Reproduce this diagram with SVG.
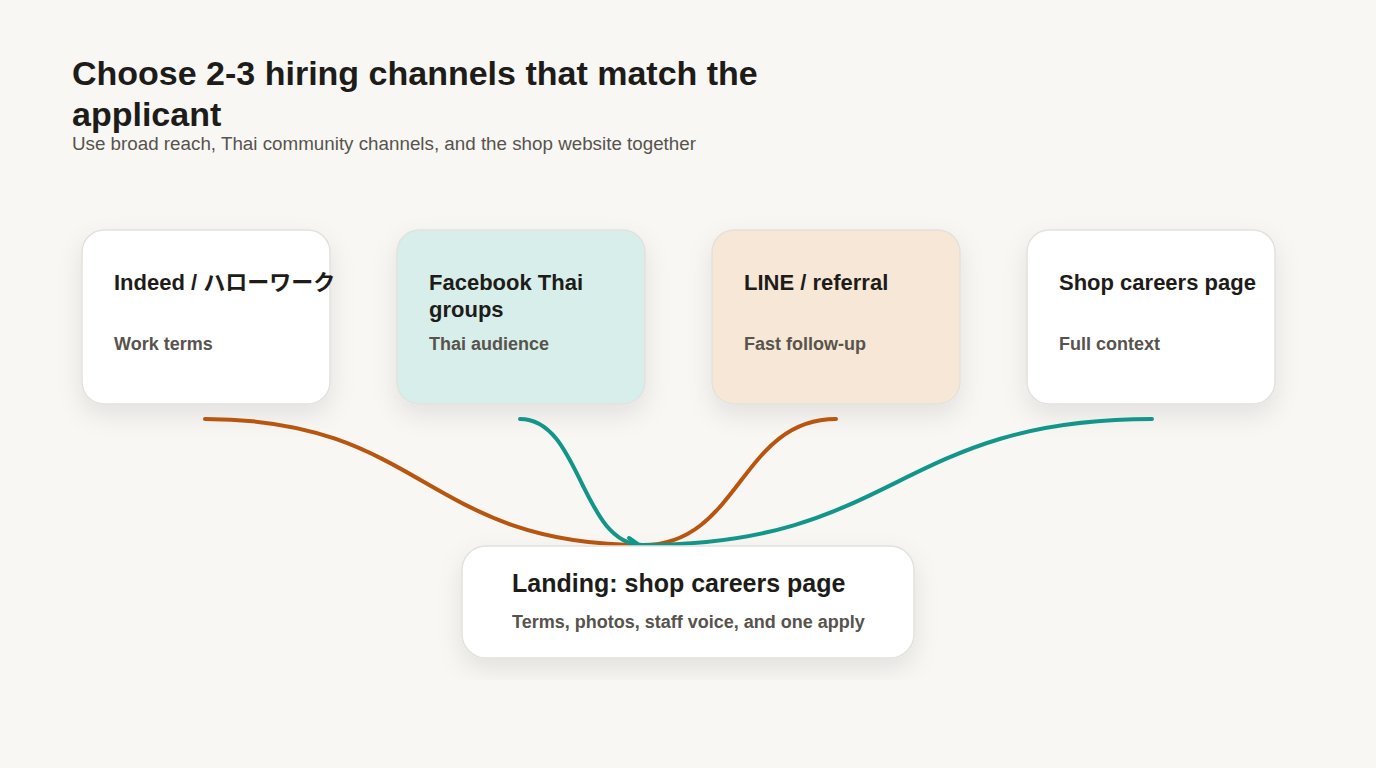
<svg xmlns="http://www.w3.org/2000/svg" width="1376" height="768" viewBox="0 0 1376 768">
  <defs>
    <filter id="shadow" x="-20%" y="-30%" width="140%" height="170%">
      <feDropShadow dx="0" dy="10" stdDeviation="12" flood-color="#000" flood-opacity="0.09"/>
    </filter>
    <clipPath id="stage">
      <rect x="0" y="0" width="1376" height="680"/>
    </clipPath>
    <style>
      .title { font-family: "Liberation Sans", Arial, sans-serif; font-weight: 700; font-size: 34px; fill: #1e1c19; }
      .sub { font-family: "Liberation Sans", Arial, sans-serif; font-size: 18.8px; fill: #57534d; }
      .card { stroke: #e3e1dd; stroke-width: 1.5; }
      .ct { font-family: "Liberation Sans", "Noto Sans CJK JP", Arial, sans-serif; font-weight: 700; font-size: 22px; fill: #1e1c19; }
      .cs { font-family: "Liberation Sans", Arial, sans-serif; font-weight: 700; font-size: 18px; fill: #57534d; }
      .lt { font-family: "Liberation Sans", Arial, sans-serif; font-weight: 700; font-size: 25px; fill: #1e1c19; }
      .conn { fill: none; stroke-width: 4; stroke-linecap: round; }
      .orange { stroke: #b8560f; }
      .teal { stroke: #13968a; }
    </style>
  </defs>
  <rect x="0" y="0" width="1376" height="768" fill="#f8f7f4"/>

  <g id="header">
    <text class="title" x="72" y="85">Choose 2-3 hiring channels that match the</text>
    <text class="title" x="72" y="126">applicant</text>
    <text class="sub" x="72" y="150">Use broad reach, Thai community channels, and the shop website together</text>
  </g>

  <g clip-path="url(#stage)">
    <g id="node-indeed">
      <rect class="card" x="82" y="230" width="248" height="174" rx="22" fill="#ffffff" filter="url(#shadow)"/>
      <text class="ct" x="114" y="290">Indeed / ハローワーク</text>
      <text class="cs" x="114" y="350">Work terms</text>
    </g>
    <g id="node-facebook">
      <rect class="card" x="397" y="230" width="248" height="174" rx="22" fill="#d8eeeb" filter="url(#shadow)"/>
      <text class="ct" x="429" y="290">Facebook Thai</text>
      <text class="ct" x="429" y="317">groups</text>
      <text class="cs" x="429" y="350">Thai audience</text>
    </g>
    <g id="node-line">
      <rect class="card" x="712" y="230" width="248" height="174" rx="22" fill="#f7e7d6" filter="url(#shadow)"/>
      <text class="ct" x="744" y="290">LINE / referral</text>
      <text class="cs" x="744" y="350">Fast follow-up</text>
    </g>
    <g id="node-careers">
      <rect class="card" x="1027" y="230" width="248" height="174" rx="22" fill="#ffffff" filter="url(#shadow)"/>
      <text class="ct" x="1059" y="290">Shop careers page</text>
      <text class="cs" x="1059" y="350">Full context</text>
    </g>

    <g id="connectors">
      <path class="conn orange" d="M205,419 C424,419 424,545 643,545"/>
      <path class="conn teal" d="M520,419 C581,419 581,545 643,545"/>
      <path class="conn orange" d="M836,419 C740,419 740,545 643,545"/>
      <path class="conn teal" d="M1152,419 C897,419 897,545 643,545"/>
      <path class="conn teal" d="M629,538 L639,545"/>
    </g>

    <g id="node-landing">
      <rect class="card" x="462" y="546" width="452" height="112" rx="24" fill="#ffffff" filter="url(#shadow)"/>
      <text class="lt" x="512" y="592">Landing: shop careers page</text>
      <text class="cs" x="512" y="628">Terms, photos, staff voice, and one apply</text>
    </g>
  </g>
</svg>
